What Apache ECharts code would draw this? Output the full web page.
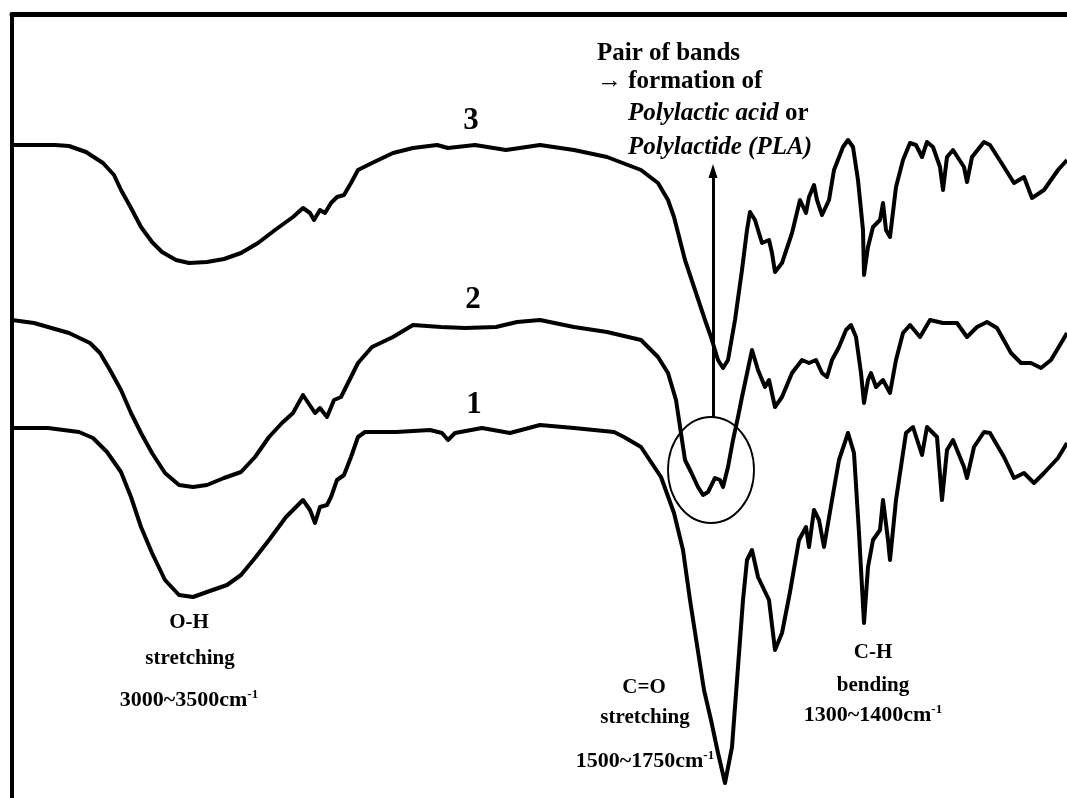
<!DOCTYPE html>
<html>
<head>
<meta charset="utf-8">
<script src="https://cdn.jsdelivr.net/npm/echarts@6/dist/echarts.min.js"></script>
<style>
  html, body { margin: 0; padding: 0; background: #fff; }
  #chart { width: 1067px; height: 798px; }
</style>
</head>
<body>
<div id="chart"></div>
<script>
// traces: [position along the spectrum, offset down the page]
const curve3 = [
  [12,145],[55,145],[69,146],[86,152],[103,163],[114,175],[121,190],[131,208],[141,227],[152,242],[162,252],[176,260],
  [189,263],[207,262],[224,259],[241,253],[258,243],[275,230],[293,217],[303,208],[310,213],[314,220],[320,210],[325,213],
  [331,203],[337,197],[344,195],[351,183],[358,170],[372,163],[393,153],[413,148],[437,145],[448,148],[475,145],[506,150],
  [540,145],[574,150],[607,157],[641,170],[658,183],[668,200],[674,217],[685,260],[695,290],[705,320],[711,337],[718,360],
  [723,368],[728,360],[735,320],[742,270],[747,230],[750,212],[755,220],[762,243],[769,240],[772,253],[775,272],[782,263],
  [792,233],[800,200],[806,213],[809,197],[814,185],[817,200],[822,215],[829,200],[834,170],[843,147],[848,140],[853,147],
  [858,180],[863,230],[864,275],[868,247],[873,227],[880,220],[883,203],[886,230],[890,237],[896,187],[903,160],[910,143],
  [916,145],[922,157],[927,142],[933,147],[940,167],[943,190],[947,157],[953,150],[964,167],[967,182],[972,157],[984,142],
  [990,145],[1004,167],[1014,183],[1024,177],[1032,198],[1044,190],[1058,170],[1067,160]
];
const curve2 = [
  [12,320],[34,323],[69,333],[90,343],[100,353],[110,370],[121,390],[131,413],[141,433],[152,453],[165,473],[179,485],
  [193,487],[207,485],[224,478],[241,472],[255,457],[269,437],[282,423],[293,413],[303,395],[315,413],[320,408],[327,417],
  [334,400],[341,397],[348,383],[358,363],[372,347],[393,337],[413,325],[441,327],[465,328],[496,327],[517,322],[540,320],
  [574,327],[607,332],[641,340],[658,357],[668,373],[676,400],[685,460],[691,472],[698,487],[703,495],[708,492],[715,478],
  [720,480],[723,487],[728,467],[733,440],[738,417],[742,397],[752,350],[758,370],[765,387],[769,380],[775,407],[782,397],
  [792,373],[802,360],[809,363],[816,360],[822,373],[827,377],[832,360],[839,347],[846,330],[851,325],[856,337],[861,373],
  [864,403],[868,380],[871,373],[876,387],[883,380],[890,393],[896,360],[903,333],[910,325],[920,337],[930,320],[943,323],
  [957,323],[967,337],[977,327],[987,322],[997,328],[1011,353],[1021,363],[1031,363],[1041,368],[1051,360],[1067,333]
];
const curve1 = [
  [12,428],[48,428],[79,432],[93,438],[107,452],[121,472],[131,497],[141,527],[152,553],[165,580],[179,595],[193,597],
  [207,592],[227,585],[241,575],[255,558],[269,540],[286,517],[303,500],[310,510],[315,523],[320,507],[327,505],[331,497],
  [337,480],[344,475],[351,457],[358,437],[365,432],[396,432],[430,430],[442,433],[448,440],[455,433],[482,428],[510,433],
  [540,425],[574,428],[614,432],[624,437],[641,447],[661,477],[674,513],[683,550],[690,600],[697,645],[704,690],[711,720],
  [718,753],[725,783],[732,747],[738,667],[743,600],[747,560],[752,550],[758,577],[769,600],[775,650],[782,633],[790,592],
  [799,540],[806,527],[809,547],[814,510],[819,520],[824,547],[832,500],[839,460],[848,433],[854,453],[859,533],[864,623],
  [868,567],[873,540],[880,530],[883,500],[888,540],[890,560],[896,500],[906,433],[913,427],[922,455],[927,427],[937,437],
  [942,500],[947,450],[953,440],[964,467],[967,478],[974,447],[984,432],[990,433],[1004,457],[1014,478],[1024,473],
  [1034,483],[1044,473],[1058,458],[1067,443]
];
// circled pair of bands and the arrow pointing up from it
const bandCircle = [711, 470];
const arrowFrom = [713, 417];
const arrowTo = [713, 171];

const chart = echarts.init(document.getElementById('chart'));

const SERIF = '"Liberation Serif", "DejaVu Serif", serif';
const supStyle = { fontFamily: SERIF, fontWeight: 'bold', fontSize: 13, verticalAlign: 'top', lineHeight: 22, color: '#000' };

// text item placed in data coords
const note = (x, y, text, o) => {
  o = o || {};
  return {
    value: [x, y],
    label: {
      show: true,
      position: 'inside',
      align: o.align || 'center',
      verticalAlign: 'middle',
      formatter: text,
      fontFamily: SERIF,
      fontWeight: 'bold',
      fontStyle: 'normal',
      fontSize: o.size || 21,
      lineHeight: o.lh || 24,
      color: '#000',
      rich: {
        i: { fontFamily: SERIF, fontWeight: 'bold', fontStyle: 'italic', fontSize: o.size || 21, color: '#000' },
        sup: supStyle
      }
    }
  };
};

const lineSeries = (name, data) => ({
  name: name,
  type: 'line',
  data: data,
  showSymbol: false,
  smooth: false,
  silent: true,
  lineStyle: { color: '#000', width: 4, join: 'round' }
});

const option = {
  animation: false,
  backgroundColor: '#fff',
  grid: { left: 12, top: 14, right: 0, bottom: 0 },
  xAxis: {
    type: 'value', position: 'top', min: 12, max: 1067,
    axisLine: { show: true, onZero: false, lineStyle: { color: '#000', width: 5 } },
    axisTick: { show: false }, axisLabel: { show: false }, splitLine: { show: false }
  },
  yAxis: {
    type: 'value', inverse: true, min: 14, max: 798,
    axisLine: { show: true, onZero: false, lineStyle: { color: '#000', width: 4 } },
    axisTick: { show: false }, axisLabel: { show: false }, splitLine: { show: false }
  },
  series: [
    lineSeries('3', curve3),
    lineSeries('2', curve2),
    lineSeries('1', curve1),
    {
      name: 'circle',
      type: 'scatter',
      silent: true,
      data: [bandCircle],
      symbol: 'circle',
      symbolSize: [86, 106],
      itemStyle: { color: 'rgba(0,0,0,0)', borderColor: '#000', borderWidth: 2, opacity: 1 },
      markLine: {
        silent: true,
        symbol: ['none', 'triangle'],
        symbolSize: [9, 14],
        label: { show: false },
        lineStyle: { color: '#000', width: 3, type: 'solid', opacity: 1 },
        data: [[{ coord: arrowFrom }, { coord: arrowTo }]]
      }
    },
    {
      name: 'notes',
      type: 'scatter',
      silent: true,
      symbolSize: 0,
      itemStyle: { opacity: 1 },
      data: [
        note(471, 121, '3', { size: 31 }),
        note(473, 300, '2', { size: 31 }),
        note(474, 405, '1', { size: 31 }),
        note(597, 54, 'Pair of bands', { align: 'left', size: 25 }),
        note(597, 82, '\u2192 formation of', { align: 'left', size: 25 }),
        note(628, 114, '{i|Polylactic acid} or', { align: 'left', size: 25 }),
        note(628, 148, '{i|Polylactide (PLA)}', { align: 'left', size: 25 }),
        note(189, 623, 'O-H'),
        note(190, 659, 'stretching'),
        note(189, 700, '3000~3500cm{sup|-1}', { size: 22 }),
        note(644, 688, 'C=O'),
        note(645, 718, 'stretching'),
        note(645, 761, '1500~1750cm{sup|-1}', { size: 22 }),
        note(873, 653, 'C-H'),
        note(873, 686, 'bending'),
        note(873, 715, '1300~1400cm{sup|-1}', { size: 22 })
      ]
    }
  ]
};

chart.setOption(option);
window.addEventListener('resize', () => chart.resize());
</script>
</body>
</html>
